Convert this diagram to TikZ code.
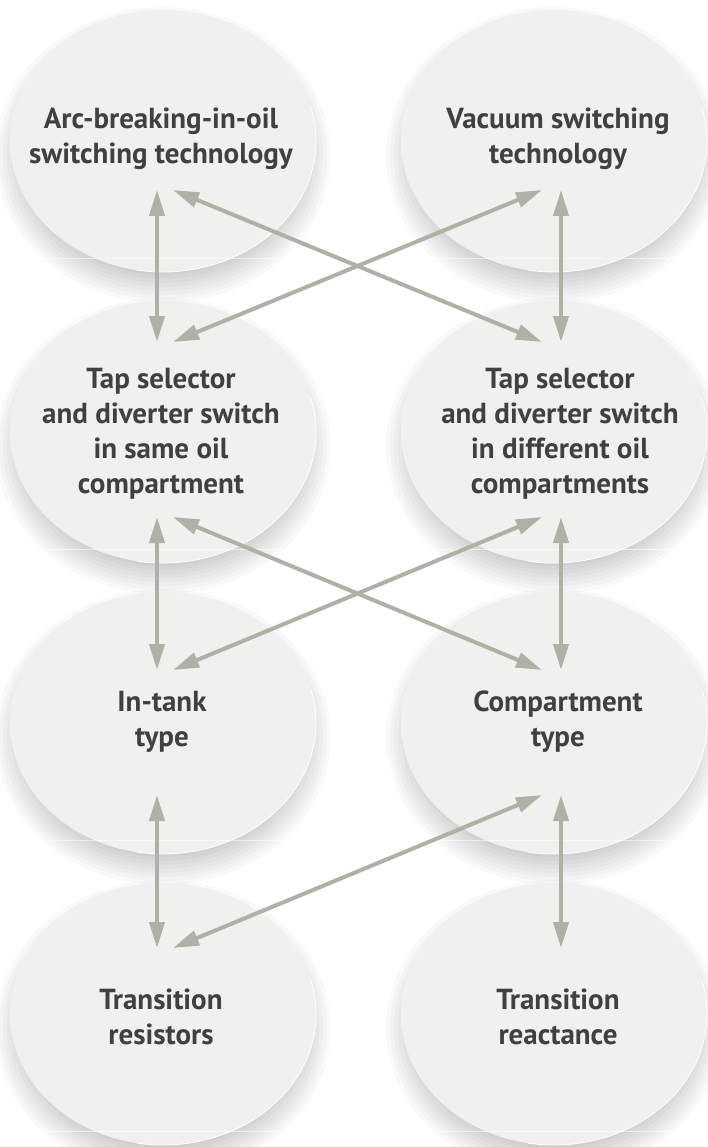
\documentclass[tikz,border=0pt]{standalone}
\usepackage{fontspec}
\setmainfont{PT Sans}
\usetikzlibrary{arrows.meta,calc,shapes.geometric}
\definecolor{eggin}{HTML}{F0F0EE}
\definecolor{eggmid}{HTML}{E3E2DE}
\definecolor{eggout}{HTML}{C8C7C0}
\definecolor{arr}{HTML}{B0B0A7}
\definecolor{txt}{HTML}{404040}
\pgfdeclareradialshading{eggshade}{\pgfpoint{0bp}{-3bp}}{color(0bp)=(eggin); color(32bp)=(eggin); color(46bp)=(eggmid); color(50bp)=(eggout)}
\begin{document}
\begin{tikzpicture}[x=1pt,y=-1pt,
  egg/.style={ellipse, minimum width=306pt, minimum height=262pt, inner sep=0pt, shading=eggshade},
  lbl/.style={align=center, font=\bfseries\fontsize{29}{35}\selectfont, text=txt, inner sep=0pt},
  link/.style={draw=arr, line width=4pt, {Triangle[length=26pt,width=15pt]}-{Triangle[length=26pt,width=15pt]}},
  rim/.style={white, line width=0.8pt},
  flat/.style={white, line width=0.8pt, opacity=0.55}
]
\useasboundingbox (0,0) rectangle (707,1147);
\fill[white] (0,0) rectangle (707,1147);
% shadows
\foreach \cx/\cy in {163/141,554/141,163/432,554/432,163/723,554/723,163/1014,554/1014}{
  \foreach \k in {0,...,9}{
    \fill[black,opacity=0.025] (\cx,\cy+14) ellipse [x radius={(168-4*\k)*1pt}, y radius={(148-4*\k)*1pt}];
  }
}
% ellipses
\node[egg] (a1) at (163,141) {};
\node[egg] (b1) at (554,141) {};
\node[egg] (a2) at (163,432) {};
\node[egg] (b2) at (554,432) {};
\node[egg] (a3) at (163,723) {};
\node[egg] (b3) at (554,723) {};
\node[egg] (a4) at (163,1014) {};
\node[egg] (b4) at (554,1014) {};
\foreach \n in {a1,b1,a2,b2,a3,b3,a4,b4}{
  \draw[rim] (\n.center) ++(-100:153pt and 131pt) arc[start angle=-100, end angle=15, x radius=153pt, y radius=131pt];
  \draw[flat] ($(\n.center)+(-140,117)$) -- ($(\n.center)+(165,117)$);
}
% labels
\node[lbl] (a1t) at (161,139) {Arc-breaking-in-oil\\switching technology};
\node[lbl] (b1t) at (558,139) {Vacuum switching\\technology};
\node[lbl] (a2t) at (161,434) {Tap selector\\and diverter switch\\in same oil\\compartment};
\node[lbl] (b2t) at (560,434) {Tap selector\\and diverter switch\\in different oil\\compartments};
\node[lbl] (a3t) at (162,722) {In-tank\\type};
\node[lbl] (b3t) at (558,722) {Compartment\\type};
\node[lbl] (a4t) at (161,1017) {Transition\\resistors};
\node[lbl] (b4t) at (558,1017) {Transition\\reactance};
% ports
\coordinate (a1bv) at ($(a1)+(-6,49)$);
\coordinate (a1bd) at ($(a1)+(10,49)$);
\coordinate (b1bv) at ($(b1)+(7,49)$);
\coordinate (b1bd) at ($(b1)+(-12,49)$);
\coordinate (a2tv) at ($(a2)+(-6,-90)$);
\coordinate (a2td) at ($(a2)+(10,-90)$);
\coordinate (b2tv) at ($(b2)+(7,-90)$);
\coordinate (b2td) at ($(b2)+(-12,-90)$);
\coordinate (a2bv) at ($(a2)+(-6,85)$);
\coordinate (a2bd) at ($(a2)+(10,85)$);
\coordinate (b2bv) at ($(b2)+(7,85)$);
\coordinate (b2bd) at ($(b2)+(-12,85)$);
\coordinate (a3tv) at ($(a3)+(-6,-53)$);
\coordinate (a3td) at ($(a3)+(10,-53)$);
\coordinate (b3tv) at ($(b3)+(7,-53)$);
\coordinate (b3td) at ($(b3)+(-12,-53)$);
\coordinate (a3bv) at ($(a3)+(-6,72)$);
\coordinate (b3bv) at ($(b3)+(7,72)$);
\coordinate (b3bd) at ($(b3)+(-12,72)$);
\coordinate (a4tv) at ($(a4)+(-6,-66)$);
\coordinate (a4td) at ($(a4)+(10,-66)$);
\coordinate (b4tv) at ($(b4)+(7,-66)$);
% connectors
\draw[link] (a1bv) -- (a2tv);
\draw[link] (a1bd) -- (b2td);
\draw[link] (b1bd) -- (a2td);
\draw[link] (b1bv) -- (b2tv);
\draw[link] (a2bv) -- (a3tv);
\draw[link] (a2bd) -- (b3td);
\draw[link] (b2bd) -- (a3td);
\draw[link] (b2bv) -- (b3tv);
\draw[link] (a3bv) -- (a4tv);
\draw[link] (b3bd) -- (a4td);
\draw[link] (b3bv) -- (b4tv);
\end{tikzpicture}
\end{document}
